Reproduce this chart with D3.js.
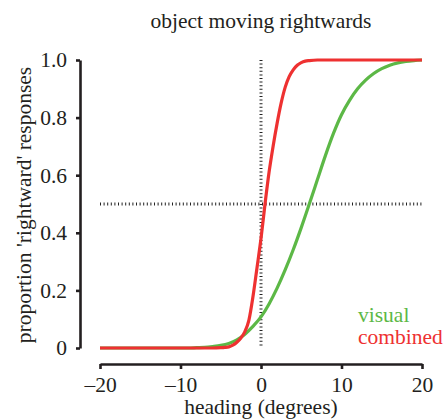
<!DOCTYPE html>
<html>
<head>
<meta charset="utf-8">
<script src="https://cdn.jsdelivr.net/npm/d3@7"></script>
<style>
	body { margin: 0; background: #fff; }
	text { font-family: "Liberation Serif", "DejaVu Serif", serif; fill: #231f20; }
</style>
</head>
<body>
<script>
//heading values (degrees) and the proportion
var headingVisual = [-20, -19, -18, -17, -16, -15, -14, -13, -12, -11, -10, -9, -8, -7, -6, -5, -4, -3, -2, -1,
	0, 1, 2, 3, 4, 5, 6, 7, 8, 9, 10, 11, 12, 13, 14, 15, 16, 17, 18, 19, 20];
var visual = [0, 0, 0, 0, 0, 0, 0, 0, 0, 0, 0, 0, 0.001, 0.002, 0.005, 0.009, 0.016, 0.028, 0.048, 0.075,
	0.108, 0.153, 0.208, 0.271, 0.341, 0.418, 0.5, 0.584, 0.668, 0.745, 0.81, 0.86, 0.9, 0.93, 0.953, 0.97, 0.982, 0.99, 0.995, 0.998, 1];

var headingCombined = [-20, -15, -10, -6, -5, -4.5, -4, -3.5, -3, -2.5, -2, -1.5, -1, -0.5, 0, 0.5, 1, 1.5, 2, 2.5,
	3, 3.5, 4, 4.5, 5, 5.5, 6, 7, 10, 15, 20];
var combined = [0, 0, 0, 0, 0.001, 0.002, 0.004, 0.01, 0.02, 0.035, 0.057, 0.097, 0.178, 0.278, 0.38, 0.5, 0.61, 0.7, 0.78, 0.85,
	0.905, 0.942, 0.966, 0.982, 0.991, 0.996, 0.998, 1, 1, 1, 1];

var xTicks = [-20, -10, 0, 10, 20];
var yTicks = [0, 0.2, 0.4, 0.6, 0.8, 1.0];
var seriesNames = ["visual", "combined"];
var seriesColors = ["#5cb846", "#ee3131"];

var width = 443;
var height = 420;
var fontSize = "21.5px";

var x = d3.scaleLinear().domain([-20, 20]).range([100, 422]);
var y = d3.scaleLinear().domain([0, 1]).range([348, 60]);

var svg = d3.select("body")
	.append("svg")
	.attr("width", width)
	.attr("height", height);

//title
svg.append("text")
	.attr("x", 261)
	.attr("y", 28)
	.attr("text-anchor", "middle")
	.style("font-size", fontSize)
	.text("object moving rightwards");

//dotted reference lines at heading 0 and proportion 0.5
svg.append("line")
	.attr("x1", x(0)).attr("x2", x(0))
	.attr("y1", y(1)).attr("y2", y(0))
	.attr("stroke", "#222")
	.attr("stroke-width", 3)
	.attr("stroke-dasharray", "1 2.6");

svg.append("line")
	.attr("x1", x(-20)).attr("x2", x(20))
	.attr("y1", y(0.5)).attr("y2", y(0.5))
	.attr("stroke", "#222")
	.attr("stroke-width", 3)
	.attr("stroke-dasharray", "1 2.6");

//axes, offset from the plot area
var xAxis = d3.axisBottom(x)
	.tickValues(xTicks)
	.tickSize(5)
	.tickSizeOuter(0)
	.tickPadding(8)
	.tickFormat(function(d) { return d < 0 ? "\u2013" + Math.abs(d) : d; });

var yAxis = d3.axisLeft(y)
	.tickValues(yTicks)
	.tickSize(4)
	.tickSizeOuter(0)
	.tickPadding(9)
	.tickFormat(function(d) { return d === 0 ? "0" : d3.format(".1f")(d); });

var gx = svg.append("g")
	.attr("transform", "translate(0, 364)")
	.call(xAxis);

var gy = svg.append("g")
	.attr("transform", "translate(80, 0)")
	.call(yAxis);

[gx, gy].forEach(function(g)
{
	g.select(".domain").attr("stroke", "#231f20").attr("stroke-width", 2.6);
	g.selectAll(".tick line").attr("stroke", "#231f20").attr("stroke-width", 2.6);
	g.selectAll(".tick text")
		.style("font-size", fontSize)
		.style("font-family", "'Liberation Serif', serif")
		.attr("fill", "#231f20");
});

//axis titles
svg.append("text")
	.attr("x", 261)
	.attr("y", 414)
	.attr("text-anchor", "middle")
	.style("font-size", fontSize)
	.text("heading (degrees)");

svg.append("text")
	.attr("transform", "translate(31, 205) rotate(-90)")
	.attr("text-anchor", "middle")
	.style("font-size", fontSize)
	.text("proportion 'rightward' responses");

//curves
var line = d3.line()
	.x(function(d) { return x(d[0]); })
	.y(function(d) { return y(d[1]); })
	.curve(d3.curveMonotoneX);

var series = [d3.zip(headingVisual, visual), d3.zip(headingCombined, combined)];

svg.selectAll(".curve")
	.data(series)
	.enter()
		.append("path")
		.attr("class", "curve")
		.attr("d", line)
		.attr("fill", "none")
		.attr("stroke", function(d, i) { return seriesColors[i]; })
		.attr("stroke-width", 3.2)
		.attr("stroke-linejoin", "round");

//legend, tight line spacing like the original
svg.selectAll(".legend")
	.data(seriesNames)
	.enter()
		.append("text")
		.attr("class", "legend")
		.attr("x", 358)
		.attr("y", function(d, i) { return 322 + i * 22; })
		.style("font-size", fontSize)
		.style("fill", function(d, i) { return seriesColors[i]; })
		.text(function(d) { return d; });
</script>
</body>
</html>
